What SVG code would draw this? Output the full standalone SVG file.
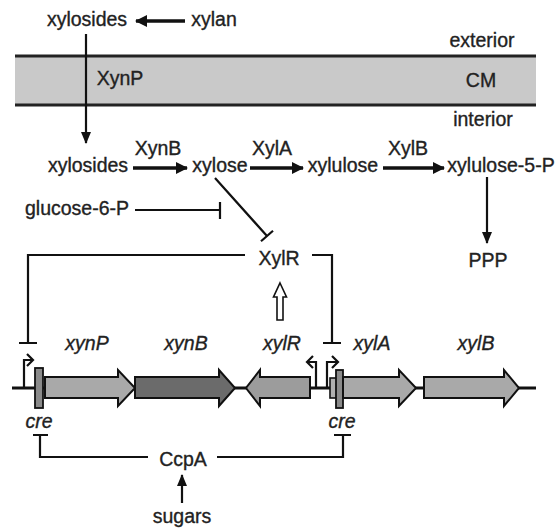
<svg xmlns="http://www.w3.org/2000/svg" width="556" height="530" viewBox="0 0 556 530">
<style>
text{font-family:"Liberation Sans",Arial,Helvetica,sans-serif;font-size:19.5px;fill:#222;stroke:#222;stroke-width:0.35;text-anchor:middle}
.it{font-style:italic}
.ln{stroke:#111;fill:none;stroke-width:2.2}
.thick{stroke:#111;fill:none;stroke-width:3.5}
.gene{stroke:#111;stroke-width:2;stroke-linejoin:miter}
</style>
<defs>
<marker id="ah" viewBox="0 0 12 12" refX="11" refY="6" markerWidth="12" markerHeight="12" markerUnits="userSpaceOnUse" orient="auto">
<path d="M0,0 L12,6 L0,12 z" fill="#111"/>
</marker>
<marker id="ahs" viewBox="0 0 12 10" refX="11" refY="5" markerWidth="12" markerHeight="10" markerUnits="userSpaceOnUse" orient="auto">
<path d="M0,0 L12,5 L0,10 z" fill="#111"/>
</marker>
</defs>

<g id="membrane">
<rect x="15" y="56" width="521" height="49" fill="#c9c9c9"/>
<line x1="15" y1="56" x2="536" y2="56" stroke="#222" stroke-width="3"/>
<line x1="15" y1="105" x2="536" y2="105" stroke="#222" stroke-width="3"/>
<text x="482" y="47">exterior</text>
<text x="481" y="87">CM</text>
<text x="483" y="126">interior</text>
</g>

<g id="connectors">
<line class="thick" x1="185" y1="21" x2="136" y2="21" marker-end="url(#ah)"/>
<line class="ln" x1="86" y1="34" x2="86" y2="143" stroke-width="3" marker-end="url(#ahs)"/>
<line class="thick" x1="133" y1="168" x2="187" y2="168" marker-end="url(#ah)"/>
<line class="thick" x1="250" y1="168" x2="303" y2="168" marker-end="url(#ah)"/>
<line class="thick" x1="383" y1="168" x2="444" y2="168" marker-end="url(#ah)"/>
<line class="ln" x1="487" y1="177" x2="487" y2="243" stroke-width="2.6" marker-end="url(#ahs)"/>
<path class="ln" d="M135,210 H220 M220,202 V219"/>
<path class="ln" d="M215,178 L267,236 M261,241.3 L273,230.7"/>
<path class="ln" d="M245,255 H28 V343 M19,343 H37"/>
<path class="ln" d="M312,255 H332 V343 M323,343 H341"/>
<polygon points="280,283 286.5,297 283,297 283,320 277,320 277,297 273.5,297" fill="#fff" stroke="#111" stroke-width="1.6"/>
<path class="ln" d="M33,435 H48 M40,435 V457 H148"/>
<path class="ln" d="M217,457 H343 V435 M334,435 H351"/>
<line class="ln" x1="182" y1="503" x2="182" y2="475" stroke-width="2.6" marker-end="url(#ahs)"/>
</g>

<g id="dna">
<line x1="12" y1="388" x2="536" y2="388" stroke="#111" stroke-width="3"/>
<path class="ln" d="M24,388 V360 H33 M27,354 L33,360 L27,366"/>
<path class="ln" d="M316,388 V362 H307 M313,356 L307,362 L313,368"/>
<path class="ln" d="M327,388 V362 H338 M332,356 L338,362 L332,368"/>
</g>

<g id="cre-left">
<rect x="35" y="368" width="8" height="40" fill="#8a8a8a" stroke="#111" stroke-width="1.8"/>
<text class="it" x="39" y="428">cre</text>
</g>
<g id="cre-right">
<rect x="330" y="378" width="7" height="20" fill="#b0b0b0" stroke="#111" stroke-width="1.6"/>
<rect x="336" y="370" width="7" height="38" fill="#8a8a8a" stroke="#111" stroke-width="1.8"/>
<text class="it" x="342" y="428">cre</text>
</g>

<g id="gene-xynP">
<polygon class="gene" fill="#a9a9a9" points="45,377 118,377 118,370 135,388 118,406 118,398 45,398"/>
<text class="it" x="87" y="350">xynP</text>
</g>
<g id="gene-xynB">
<polygon class="gene" fill="#6b6b6b" points="135,377 219,377 219,370 235,388 219,406 219,398 135,398"/>
<text class="it" x="186" y="350">xynB</text>
</g>
<g id="gene-xylR">
<polygon class="gene" fill="#9c9c9c" points="310,377 260,377 260,370 246,388 260,406 260,398 310,398"/>
<text class="it" x="282" y="350">xylR</text>
</g>
<g id="gene-xylA">
<polygon class="gene" fill="#a9a9a9" points="343,377 399,377 399,370 416,388 399,406 399,398 343,398"/>
<text class="it" x="372" y="350">xylA</text>
</g>
<g id="gene-xylB">
<polygon class="gene" fill="#a9a9a9" points="424,377 504,377 504,370 519,388 504,406 504,398 424,398"/>
<text class="it" x="476" y="350">xylB</text>
</g>

<g id="xylosides-out"><text x="87" y="26">xylosides</text></g>
<g id="xylan"><text x="214" y="26">xylan</text></g>
<g id="XynP"><text x="120" y="85">XynP</text></g>
<g id="xylosides-in"><text x="88" y="172">xylosides</text></g>
<g id="XynB"><text x="158" y="155">XynB</text></g>
<g id="xylose"><text x="220" y="172">xylose</text></g>
<g id="XylA"><text x="272" y="155">XylA</text></g>
<g id="xylulose"><text x="343" y="172">xylulose</text></g>
<g id="XylB"><text x="408" y="155">XylB</text></g>
<g id="xylulose-5-P"><text x="501" y="172">xylulose-5-P</text></g>
<g id="PPP"><text x="488" y="267">PPP</text></g>
<g id="glucose-6-P"><text x="77" y="215">glucose-6-P</text></g>
<g id="XylR"><text x="279" y="265">XylR</text></g>
<g id="CcpA"><text x="183" y="466">CcpA</text></g>
<g id="sugars"><text x="182" y="523">sugars</text></g>
</svg>
